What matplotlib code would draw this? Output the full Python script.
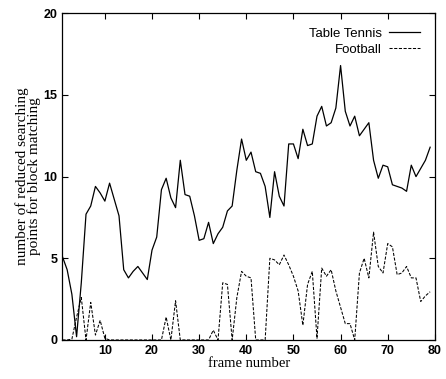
import matplotlib
matplotlib.use("Agg")
import matplotlib.pyplot as plt

# frame numbers and values
frames = list(range(1, 80))

table_tennis = [5.1, 4.3, 2.8, 0.2, 3.5, 7.7, 8.2, 9.4, 9.0, 8.5,
                9.6, 8.6, 7.6, 4.3, 3.8, 4.2, 4.5, 4.1, 3.7, 5.5,
                6.3, 9.2, 9.9, 8.7, 8.1, 11.0, 8.9, 8.8, 7.6, 6.1,
                6.2, 7.2, 5.9, 6.5, 6.9, 7.9, 8.2, 10.4, 12.3, 11.0,
                11.5, 10.3, 10.2, 9.4, 7.5, 10.3, 8.8, 8.2, 12.0, 12.0,
                11.1, 12.9, 11.9, 12.0, 13.7, 14.3, 13.1, 13.3, 14.2, 16.8,
                14.0, 13.1, 13.7, 12.5, 12.9, 13.3, 11.0, 9.9, 10.7, 10.6,
                9.5, 9.4, 9.3, 9.1, 10.7, 10.0, 10.5, 11.0, 11.8]

football = [0.0, 0.0, 0.05, 1.4, 2.6, 0.0, 2.3, 0.3, 1.2, 0.1,
            0.0, 0.0, 0.0, 0.0, 0.0, 0.0, 0.0, 0.0, 0.0, 0.0,
            0.0, 0.0, 1.4, 0.0, 2.4, 0.0, 0.0, 0.0, 0.0, 0.0,
            0.0, 0.0, 0.6, 0.0, 3.5, 3.4, 0.0, 2.6, 4.2, 3.9,
            3.8, 0.0, 0.0, 0.0, 5.0, 4.9, 4.6, 5.2, 4.6, 3.9,
            3.0, 0.9, 3.4, 4.2, 0.1, 4.4, 3.9, 4.3, 3.0, 2.0,
            1.0, 1.0, 0.0, 4.1, 5.0, 3.8, 6.6, 4.5, 4.1, 5.9,
            5.7, 4.0, 4.1, 4.5, 3.8, 3.8, 2.35, 2.7, 2.95]

x_ticks = [10, 20, 30, 40, 50, 60, 70, 80]
y_ticks = [0, 5, 10, 15, 20]

fig = plt.figure(figsize=(4.46, 3.79), dpi=100)
ax = fig.add_axes([0.140, 0.103, 0.835, 0.862])

ax.plot(frames, table_tennis, color='black', linewidth=0.9, label='Table Tennis')
ax.plot(frames, football, color='black', linewidth=0.75, linestyle=(0, (3, 1.5)), label='Football')

ax.set_xlim(1, 80)
ax.set_ylim(0, 20)
ax.set_xticks(x_ticks)
ax.set_yticks(y_ticks)
ax.tick_params(direction='in', top=True, right=True, length=4, width=0.8, labelsize=9)
for lab in ax.get_xticklabels() + ax.get_yticklabels():
    lab.set_fontweight('bold')
    lab.set_family('Liberation Sans')

ax.set_xlabel('frame number', family='Liberation Serif', fontsize=10.5, labelpad=0)
ax.set_ylabel('number of reduced searching\npoints for block matching',
              family='Liberation Serif', fontsize=11, labelpad=2, linespacing=0.85)

leg = ax.legend(loc='upper right', frameon=False, markerfirst=False, handlelength=2.4,
                prop={'family': 'Liberation Sans', 'size': 9.5}, borderaxespad=0.7,
                labelspacing=0.25, handletextpad=0.5)

for s in ax.spines.values():
    s.set_linewidth(0.9)

fig.savefig('out.png', dpi=100)
